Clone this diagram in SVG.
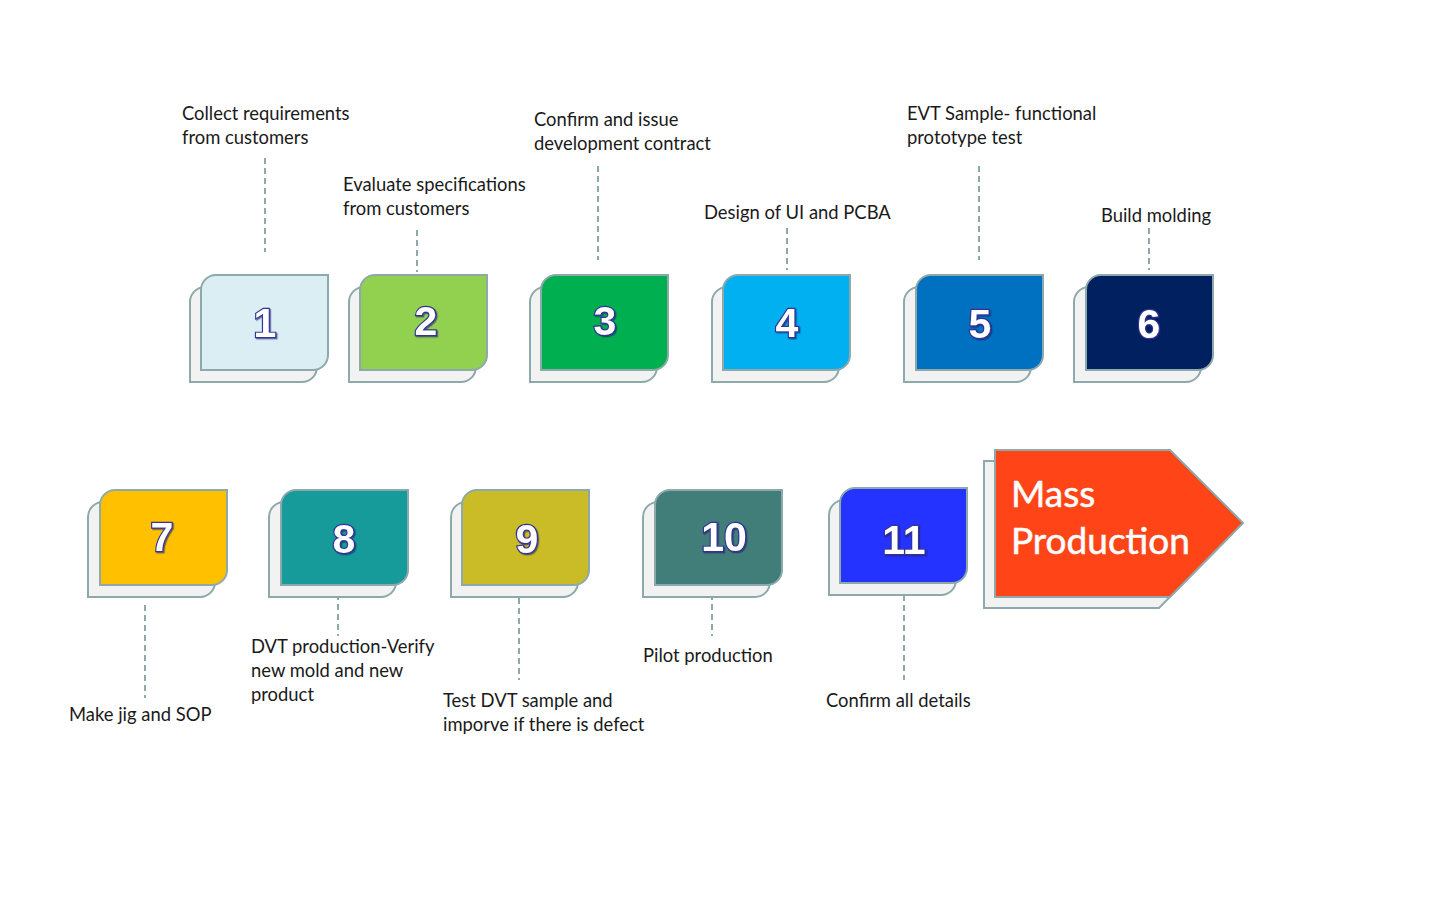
<svg xmlns="http://www.w3.org/2000/svg" xmlns:xlink="http://www.w3.org/1999/xlink" width="1430" height="908" viewBox="0 0 1430 908">
<style>
.lbl{font-family:Lato,"Open Sans",sans-serif;font-size:18.4px;fill:#1a1a1a}
.num{font-family:"Liberation Sans",Arial,sans-serif;font-size:41px;font-weight:bold;fill:#ffffff;stroke:#33339a;stroke-width:2.4;paint-order:stroke;text-anchor:middle;filter:url(#sh)}
.card{stroke:#8ea9ab;stroke-width:2}
.back{fill:#f2f2f2}
.conn line{stroke:#8ea9ab;stroke-width:2;stroke-dasharray:6,4}
.mp{font-family:Lato,"Open Sans",sans-serif;font-size:37px;fill:#ffffff;stroke:#eef6f6;stroke-width:0.6}
</style>
<defs>
<path id="c" d="M15,0 H127 V80 A15,15 0 0 1 112,95 H0 V15 A15,15 0 0 1 15,0 Z"/>
<filter id="sh" x="-20%" y="-20%" width="150%" height="150%">
<feDropShadow dx="1.2" dy="1.2" stdDeviation="0.6" flood-color="#1a1a66" flood-opacity="0.6"/>
</filter>
</defs>
<rect width="1430" height="908" fill="#ffffff"/>
<g class="conn" id="connectors">
<line x1="265" y1="158" x2="265" y2="252"/>
<line x1="417" y1="230" x2="417" y2="272"/>
<line x1="598" y1="166" x2="598" y2="260"/>
<line x1="787" y1="228" x2="787" y2="270"/>
<line x1="979" y1="166" x2="979" y2="260"/>
<line x1="1149" y1="228" x2="1149" y2="270"/>
<line x1="145" y1="605" x2="145" y2="698"/>
<line x1="338" y1="594" x2="338" y2="636"/>
<line x1="519" y1="588" x2="519" y2="680"/>
<line x1="712" y1="594" x2="712" y2="636"/>
<line x1="904" y1="585" x2="904" y2="680"/>
</g>
<g id="node1">
<use xlink:href="#c" class="card back" x="190" y="287"/>
<use xlink:href="#c" class="card" x="201" y="275" fill="#daeef3"/>
<text class="num" x="265" y="337">1</text>
<text class="lbl" x="182" y="120">Collect requirements</text>
<text class="lbl" x="182" y="144">from customers</text>
</g>
<g id="node2">
<use xlink:href="#c" class="card back" x="349" y="287"/>
<use xlink:href="#c" class="card" x="360" y="275" fill="#92d050"/>
<text class="num" x="426" y="335">2</text>
<text class="lbl" x="343" y="191">Evaluate specifications</text>
<text class="lbl" x="343" y="215">from customers</text>
</g>
<g id="node3">
<use xlink:href="#c" class="card back" x="530" y="287"/>
<use xlink:href="#c" class="card" x="541" y="275" fill="#00b050"/>
<text class="num" x="605" y="335">3</text>
<text class="lbl" x="534" y="126">Confirm and issue</text>
<text class="lbl" x="534" y="150">development contract</text>
</g>
<g id="node4">
<use xlink:href="#c" class="card back" x="712" y="287"/>
<use xlink:href="#c" class="card" x="723" y="275" fill="#00b0f0"/>
<text class="num" x="787" y="337">4</text>
<text class="lbl" x="704" y="219">Design of UI and PCBA</text>
</g>
<g id="node5">
<use xlink:href="#c" class="card back" x="904" y="287"/>
<use xlink:href="#c" class="card" x="916" y="275" fill="#0070c0"/>
<text class="num" x="980" y="338">5</text>
<text class="lbl" x="907" y="120">EVT Sample- functional</text>
<text class="lbl" x="907" y="144">prototype test</text>
</g>
<g id="node6">
<use xlink:href="#c" class="card back" x="1074" y="287"/>
<use xlink:href="#c" class="card" x="1086" y="275" fill="#002060"/>
<text class="num" x="1149" y="338">6</text>
<text class="lbl" x="1101" y="222">Build molding</text>
</g>
<g id="node7">
<use xlink:href="#c" class="card back" x="88" y="502"/>
<use xlink:href="#c" class="card" x="100" y="490" fill="#ffc000"/>
<text class="num" x="162" y="551">7</text>
<text class="lbl" x="69" y="721">Make jig and SOP</text>
</g>
<g id="node8">
<use xlink:href="#c" class="card back" x="269" y="502"/>
<use xlink:href="#c" class="card" x="281" y="490" fill="#169b9a"/>
<text class="num" x="344" y="553">8</text>
<text class="lbl" x="251" y="653">DVT production-Verify</text>
<text class="lbl" x="251" y="677">new mold and new</text>
<text class="lbl" x="251" y="701">product</text>
</g>
<g id="node9">
<use xlink:href="#c" class="card back" x="451" y="502"/>
<use xlink:href="#c" class="card" x="462" y="490" fill="#c9bc26"/>
<text class="num" x="527" y="553">9</text>
<text class="lbl" x="443" y="707">Test DVT sample and</text>
<text class="lbl" x="443" y="731">imporve if there is defect</text>
</g>
<g id="node10">
<use xlink:href="#c" class="card back" x="643" y="502"/>
<use xlink:href="#c" class="card" x="655" y="490" fill="#417d79"/>
<text class="num" x="724" y="551">10</text>
<text class="lbl" x="643" y="662">Pilot production</text>
</g>
<g id="node11">
<use xlink:href="#c" class="card back" x="829" y="500"/>
<use xlink:href="#c" class="card" x="840" y="488" fill="#2433ff"/>
<text class="num" x="904" y="554">11</text>
<text class="lbl" x="826" y="707">Confirm all details</text>
</g>
<g id="mass">
<path class="card back" d="M984,461 H1159 L1232,534 L1159,608 H984 Z"/>
<path class="card" d="M995,450 H1170 L1243,523 L1170,597 H995 Z" fill="#ff4517"/>
<text class="mp" x="1011" y="507">Mass</text>
<text class="mp" x="1011" y="554">Production</text>
</g>
</svg>
